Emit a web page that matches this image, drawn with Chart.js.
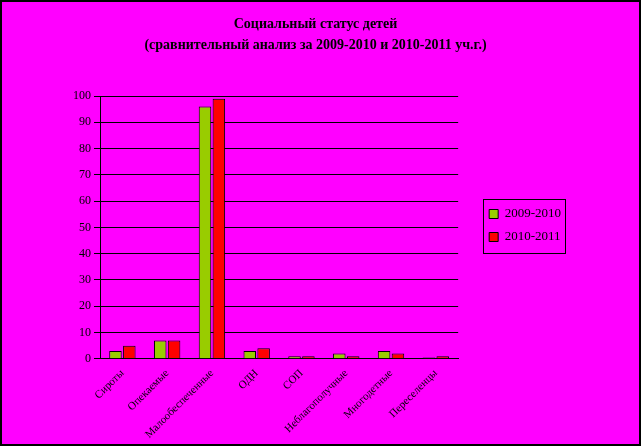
<!DOCTYPE html>
<html>
<head>
<meta charset="utf-8">
<script src="https://cdn.jsdelivr.net/npm/chart.js@4"></script>
<style>
  body { margin: 0; background: #000; }
  #box { width: 641px; height: 446px; box-sizing: border-box; border: 2px solid #000; background: #FF00FF; }
</style>
</head>
<body>
<div id="box"><canvas id="graf"></canvas></div>
<script>
var categories = ['Сироты', 'Опекаемые', 'Малообеспеченные', 'ОДН', 'СОП', 'Неблагополучные', 'Многодетные', 'Переселенцы'];
var years = ['2009-2010', '2010-2011'];
var values0910 = [3, 7, 96, 3, 1, 2, 3, 0.5];
var values1011 = [5, 7, 99, 4, 1, 1, 2, 1];
var yTicks = [0, 10, 20, 30, 40, 50, 60, 70, 80, 90, 100];

// отступ между графиком и легендой
var spacer = {
    id: 'spacer',
    afterInit: function(chart) {
        Chart.layouts.addBox(chart, {
            position: 'right', weight: 0, fullSize: false, options: {},
            left: 0, top: 0, right: 0, bottom: 0, width: 0, height: 0,
            isHorizontal: function() { return false; },
            update: function(w, h) { this.width = 21; this.height = h; },
            draw: function() {}
        });
    }
};

// рамка вокруг легенды
var legendBox = {
    id: 'legendBox',
    afterDraw: function(chart) {
        var hb = chart.legend.legendHitBoxes, c = chart.ctx;
        if (!hb || !hb.length) return;
        var x0 = Infinity, y0 = Infinity, x1 = -Infinity, y1 = -Infinity;
        hb.forEach(function(b) {
            x0 = Math.min(x0, b.left); y0 = Math.min(y0, b.top);
            x1 = Math.max(x1, b.left + b.width); y1 = Math.max(y1, b.top + b.height);
        });
        c.save();
        c.strokeStyle = '#000';
        c.lineWidth = 1;
        c.strokeRect(Math.round(x0 - 6) + 0.5, Math.round(y0 - 9) + 0.5, Math.round(x1 - x0 + 10), Math.round(y1 - y0 + 18));
        c.restore();
    }
};

var ctx = document.getElementById("graf").getContext("2d");
var graf = new Chart(ctx, {
    type: 'bar',
    data: {
        labels: categories,
        datasets: [{
            label: years[0],
            data: values0910,
            backgroundColor: '#99CC00',
            borderColor: '#000',
            borderWidth: 1,
            barPercentage: 0.9,
            categoryPercentage: 0.62
        }, {
            label: years[1],
            data: values1011,
            backgroundColor: '#FF0000',
            borderColor: '#000',
            borderWidth: 1,
            barPercentage: 0.9,
            categoryPercentage: 0.62
        }]
    },
    options: {
        responsive: true,
        maintainAspectRatio: false,
        animation: false,
        layout: { padding: { left: 68, right: 78, top: 8, bottom: 3 } },
        plugins: {
            title: {
                display: true,
                text: ['Социальный статус детей', '(сравнительный анализ за 2009-2010 и 2010-2011 уч.г.)'],
                color: '#000',
                font: { family: 'Liberation Serif', size: 14, weight: 'bold', lineHeight: 1.5 },
                padding: { top: 4, bottom: 40 }
            },
            legend: {
                position: 'right',
                labels: {
                    color: '#000',
                    boxWidth: 9,
                    boxHeight: 9,
                    padding: 10,
                    font: { family: 'Liberation Serif', size: 13 }
                }
            },
            tooltip: { enabled: false }
        },
        scales: {
            x: {
                grid: { display: false },
                border: { color: '#000' },
                ticks: {
                    color: '#000',
                    padding: 0,
                    minRotation: 45,
                    maxRotation: 45,
                    font: { family: 'Liberation Serif', size: 11 }
                }
            },
            y: {
                min: 0,
                max: 100,
                afterBuildTicks: function(axis) {
                    axis.ticks = yTicks.map(function(v) { return { value: v }; });
                },
                grid: { color: '#000', lineWidth: 1, tickLength: 6 },
                border: { color: '#000' },
                ticks: {
                    color: '#000',
                    font: { family: 'Liberation Serif', size: 12 }
                }
            }
        }
    },
    plugins: [spacer, legendBox]
});
</script>
</body>
</html>
